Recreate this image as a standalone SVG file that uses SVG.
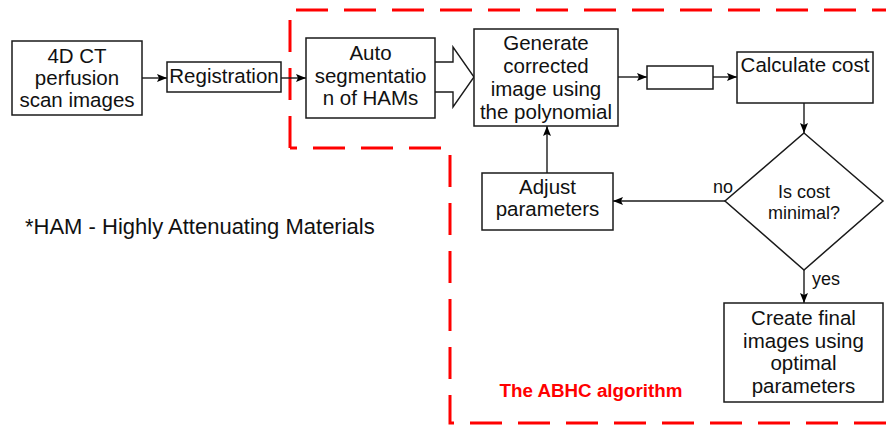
<svg xmlns="http://www.w3.org/2000/svg" width="886" height="428" viewBox="0 0 886 428">
<defs>
<marker id="ah" viewBox="0 0 10 8" refX="10" refY="4" markerWidth="10" markerHeight="8" markerUnits="userSpaceOnUse" orient="auto">
<path d="M0,0 L10,4 L0,8 L2,4 Z" fill="#000"/>
</marker>
<style>
.box{fill:#fff;stroke:#1a1a1a;stroke-width:1.5}
.t{font-family:"Liberation Sans",Arial,sans-serif;font-size:20.5px;fill:#111;text-anchor:middle}
.s{font-family:"Liberation Sans",Arial,sans-serif;font-size:18px;fill:#111}
.c{fill:none;stroke:#1a1a1a;stroke-width:1.4}
</style>
</defs>
<rect width="886" height="428" fill="#fff"/>
<g id="region">
<path d="M290,148 L290,10 L886,10 M886,423 L450,423 L450,148 L290,148" fill="none" stroke="#ff0000" stroke-width="3" stroke-dasharray="32,16"/>
<text x="591" y="397" style="font-family:'Liberation Sans',Arial,sans-serif;font-size:18.8px;font-weight:bold;fill:#ff0000;text-anchor:middle">The ABHC algorithm</text>
</g>
<g id="connectors">
<line class="c" x1="142" y1="78" x2="167" y2="78" marker-end="url(#ah)"/>
<line class="c" x1="281" y1="78" x2="306" y2="78" marker-end="url(#ah)"/>
<path d="M435,62 L453,62 L453,47 L474,77 L453,107 L453,92 L435,92" fill="#fff" stroke="#1a1a1a" stroke-width="1.4"/>
<line class="c" x1="618" y1="77" x2="647" y2="77" marker-end="url(#ah)"/>
<line class="c" x1="713" y1="77" x2="737" y2="77" marker-end="url(#ah)"/>
<line class="c" x1="804" y1="103" x2="804" y2="133" marker-end="url(#ah)"/>
<line class="c" x1="725" y1="201" x2="613" y2="201" marker-end="url(#ah)"/>
<line class="c" x1="547" y1="173" x2="547" y2="126" marker-end="url(#ah)"/>
<line class="c" x1="804" y1="270" x2="804" y2="303" marker-end="url(#ah)"/>
<text class="s" x="713" y="193">no</text>
<text class="s" x="812" y="285">yes</text>
</g>
<g id="n-input">
<rect class="box" x="12" y="41" width="130" height="74"/>
<text class="t" x="77" y="63">4D CT</text>
<text class="t" x="77" y="85">perfusion</text>
<text class="t" x="77" y="107">scan images</text>
</g>
<g id="n-registration">
<rect class="box" x="167" y="62" width="114" height="30"/>
<text class="t" x="224" y="83">Registration</text>
</g>
<g id="n-autoseg">
<rect class="box" x="306" y="38" width="129" height="80"/>
<text class="t" x="370.5" y="60">Auto</text>
<text class="t" x="370.5" y="83">segmentatio</text>
<text class="t" x="370.5" y="105">n of HAMs</text>
</g>
<g id="n-generate">
<rect class="box" x="474" y="29" width="144" height="97"/>
<text class="t" x="546" y="50">Generate</text>
<text class="t" x="546" y="73">corrected</text>
<text class="t" x="546" y="96">image using</text>
<text class="t" x="546" y="119">the polynomial</text>
</g>
<g id="n-empty">
<rect class="box" x="647" y="66" width="66" height="23"/>
</g>
<g id="n-cost">
<rect class="box" x="737" y="52" width="136" height="51"/>
<text class="t" x="805" y="72">Calculate cost</text>
</g>
<g id="n-decision">
<path class="box" d="M804,133 L883,201 L804,270 L725,201 Z"/>
<text class="s" x="804" y="198" style="text-anchor:middle">Is cost</text>
<text class="s" x="804" y="219" style="text-anchor:middle">minimal?</text>
</g>
<g id="n-adjust">
<rect class="box" x="482" y="173" width="131" height="57"/>
<text class="t" x="547.5" y="194">Adjust</text>
<text class="t" x="547.5" y="216">parameters</text>
</g>
<g id="n-final">
<rect class="box" x="724" y="303" width="159" height="99"/>
<text class="t" x="803.5" y="325">Create final</text>
<text class="t" x="803.5" y="348">images using</text>
<text class="t" x="803.5" y="370">optimal</text>
<text class="t" x="803.5" y="393">parameters</text>
</g>
<g id="note">
<text x="25" y="234" style="font-family:'Liberation Sans',Arial,sans-serif;font-size:22px;fill:#111">*HAM - Highly Attenuating Materials</text>
</g>
</svg>
